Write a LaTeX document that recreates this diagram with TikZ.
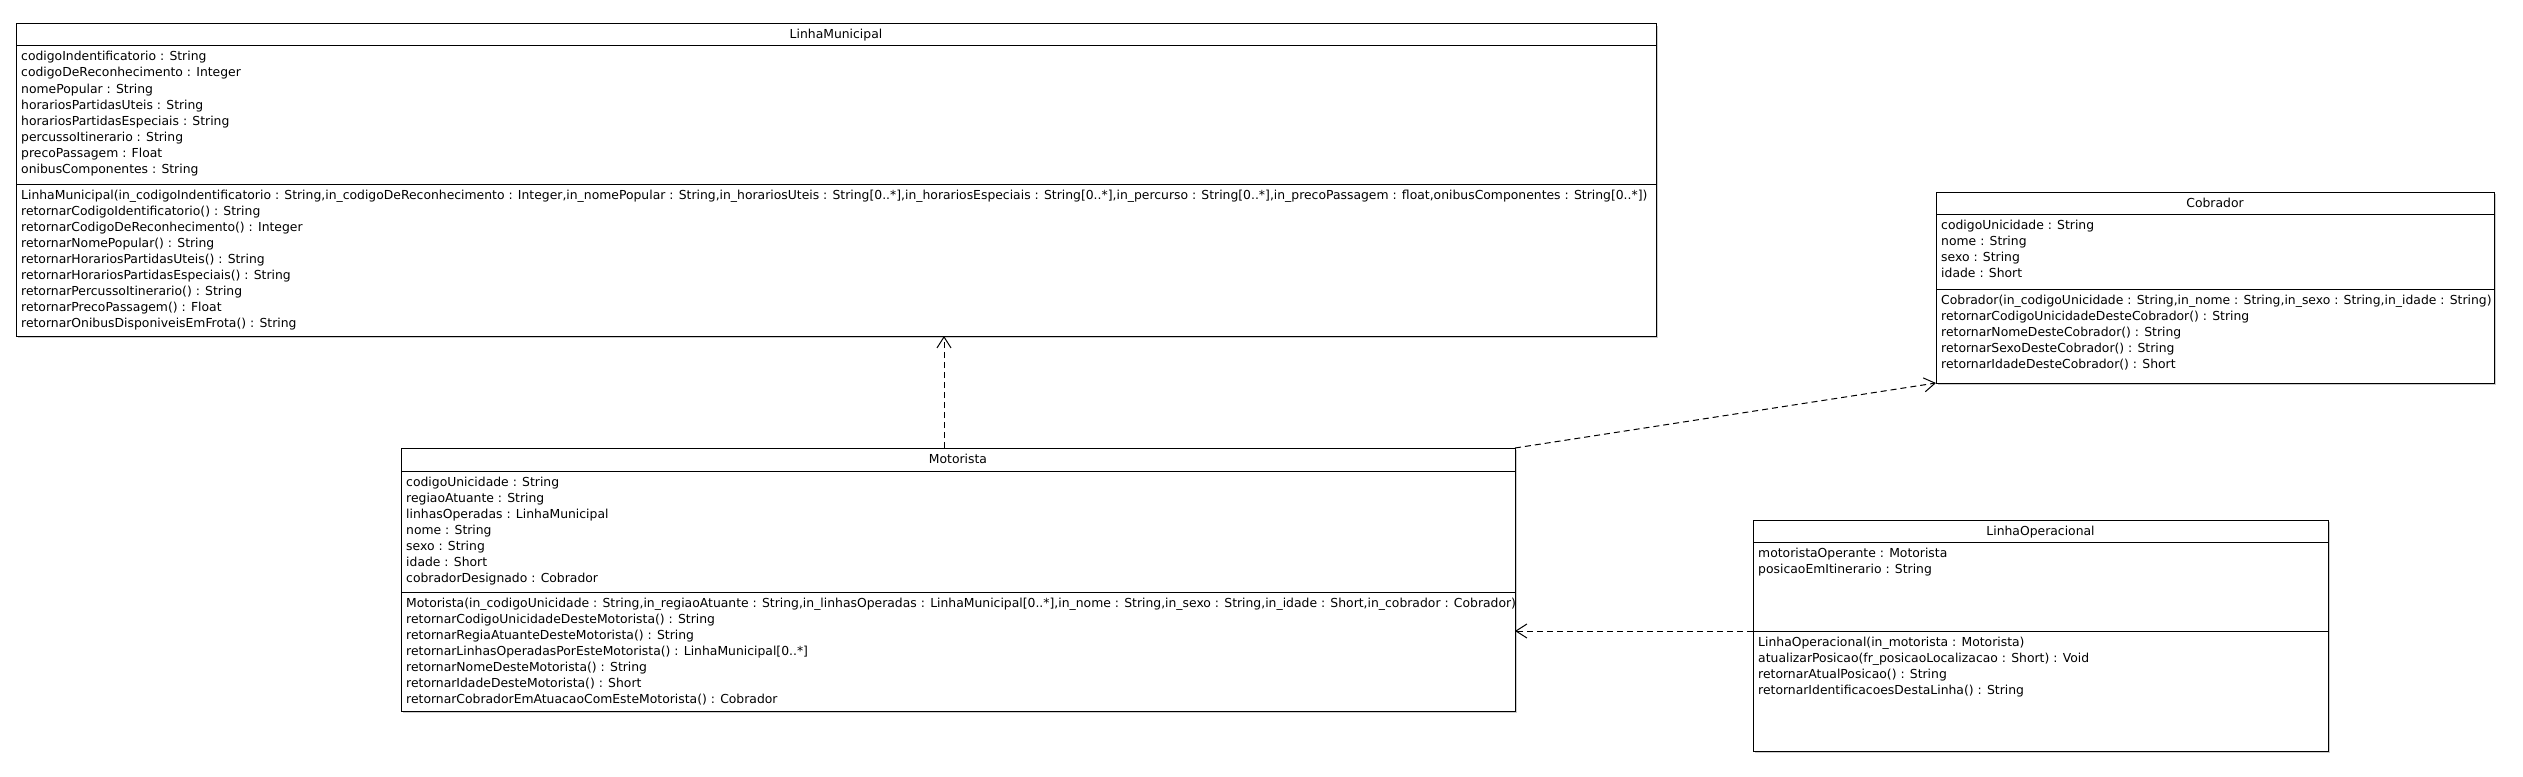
\documentclass[tikz,border=0pt]{standalone}
\usepackage{fontspec}
\newfontfamily\umlfont{DejaVu Sans}
\usetikzlibrary{arrows.meta}
\newlength\umlw
\tikzset{
  classbox/.style={draw=black, fill=white, line width=1pt, rectangle, inner sep=0pt, outer sep=0pt},
  sepline/.style={draw=black, line width=1pt},
  shadowbox/.style={fill=black!20},
  titletxt/.style={anchor=base, inner sep=0pt, font=\umlfont\fontsize{\umlfs}{16}\selectfont},
  linetxt/.style={anchor=base west, inner sep=0pt, font=\umlfont\fontsize{\umlfs}{16}\selectfont},
  dep/.style={draw=black, line width=1pt, dash pattern=on 6pt off 4pt, -{Straight Barb[length=11pt,width=14pt]}}
}
% #1 name, #2 x1, #3 y1, #4 x2, #5 y2, #6 title separator, #7 attribute separator, #8 title
\newcommand\umlbox[8]{%
  \fill[shadowbox] ({#2+2},{#3+2}) rectangle ({#4+2},{#5+2});
  \node[classbox, minimum width={(#4)-(#2)}, minimum height={(#5)-(#3)}] (#1) at ({(#2+#4)/2},{(#3+#5)/2}) {};
  \draw[sepline] (#2,#6) -- (#4,#6);
  \draw[sepline] (#2,#7) -- (#4,#7);
  \node[titletxt] at ({(#2+#4)/2},{(#3+#6)/2+4}) {#8};
}
% #1 x, #2 first baseline, #3 list of lines
\newcommand\umllines[3]{%
  \foreach \umlitem [count=\umli from 0] in {#3} {
    \node[linetxt] at (#1,{#2+16*\umli}) {\umlitem};
  }
}
\begin{document}
\settowidth\umlw{\umlfont\fontsize{10pt}{12pt}\selectfont LinhaMunicipal(in\_codigoIndentificatorio : String,in\_codigoDeReconhecimento : Integer,in\_nomePopular : String,in\_horariosUteis : String[0..*],in\_horariosEspeciais : String[0..*],in\_percurso : String[0..*],in\_precoPassagem : float,onibusComponentes : String[0..*])}%
\pgfmathsetmacro\umlfs{1626/\umlw*10}%
\begin{tikzpicture}[x=1pt,y=-1pt]
\useasboundingbox (0,0) rectangle (2523,776);
\fill[white] (0,0) rectangle (2523,776);

% LinhaMunicipal
\umlbox{lm}{16}{24}{1656}{336}{46}{184}{LinhaMunicipal}
\umllines{21}{46+15}{{codigoIndentificatorio : String},{codigoDeReconhecimento : Integer},{nomePopular : String},{horariosPartidasUteis : String},{horariosPartidasEspeciais : String},{percussoItinerario : String},{precoPassagem : Float},{onibusComponentes : String}}
\umllines{21}{184+15}{{LinhaMunicipal(in\_codigoIndentificatorio : String,in\_codigoDeReconhecimento : Integer,in\_nomePopular : String,in\_horariosUteis : String[0..*],in\_horariosEspeciais : String[0..*],in\_percurso : String[0..*],in\_precoPassagem : float,onibusComponentes : String[0..*])},{retornarCodigoIdentificatorio() : String},{retornarCodigoDeReconhecimento() : Integer},{retornarNomePopular() : String},{retornarHorariosPartidasUteis() : String},{retornarHorariosPartidasEspeciais() : String},{retornarPercussoItinerario() : String},{retornarPrecoPassagem() : Float},{retornarOnibusDisponiveisEmFrota() : String}}

% Cobrador
\umlbox{cob}{1936}{192}{2494}{383}{214}{289}{Cobrador}
\umllines{1941}{214+15}{{codigoUnicidade : String},{nome : String},{sexo : String},{idade : Short}}
\umllines{1941}{289+15}{{Cobrador(in\_codigoUnicidade : String,in\_nome : String,in\_sexo : String,in\_idade : String)},{retornarCodigoUnicidadeDesteCobrador() : String},{retornarNomeDesteCobrador() : String},{retornarSexoDesteCobrador() : String},{retornarIdadeDesteCobrador() : Short}}

% Motorista
\umlbox{mot}{401}{448}{1515}{711}{471}{592}{Motorista}
\umllines{406}{471+15}{{codigoUnicidade : String},{regiaoAtuante : String},{linhasOperadas : LinhaMunicipal},{nome : String},{sexo : String},{idade : Short},{cobradorDesignado : Cobrador}}
\umllines{406}{592+15}{{Motorista(in\_codigoUnicidade : String,in\_regiaoAtuante : String,in\_linhasOperadas : LinhaMunicipal[0..*],in\_nome : String,in\_sexo : String,in\_idade : Short,in\_cobrador : Cobrador)},{retornarCodigoUnicidadeDesteMotorista() : String},{retornarRegiaAtuanteDesteMotorista() : String},{retornarLinhasOperadasPorEsteMotorista() : LinhaMunicipal[0..*]},{retornarNomeDesteMotorista() : String},{retornarIdadeDesteMotorista() : Short},{retornarCobradorEmAtuacaoComEsteMotorista() : Cobrador}}

% LinhaOperacional
\umlbox{lo}{1753}{520}{2328}{751}{542}{631}{LinhaOperacional}
\umllines{1758}{542+15}{{motoristaOperante : Motorista},{posicaoEmItinerario : String}}
\umllines{1758}{631+15}{{LinhaOperacional(in\_motorista : Motorista)},{atualizarPosicao(fr\_posicaoLocalizacao : Short) : Void},{retornarAtualPosicao() : String},{retornarIdentificacoesDestaLinha() : String}}

% connectors
\coordinate (d1) at (944,448);
\draw[dep] (d1) -- (d1 |- lm.south);
\draw[dep] (mot.north east) -- (cob.south west);
\coordinate (d3) at (1753,631);
\draw[dep] (d3) -- (d3 -| mot.east);
\end{tikzpicture}
\end{document}
